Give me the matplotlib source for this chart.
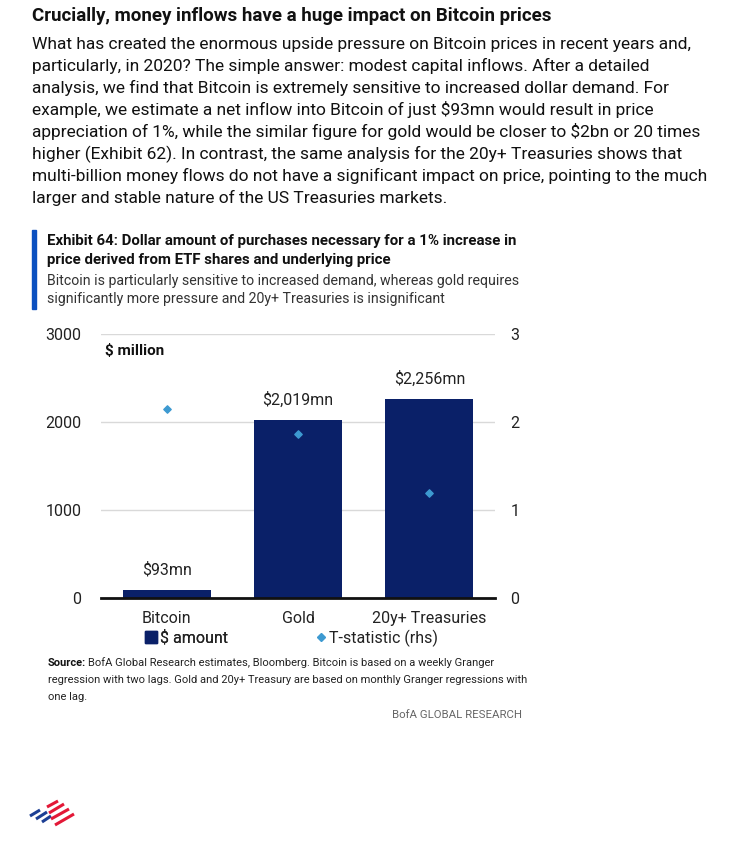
import matplotlib
matplotlib.use("Agg")
import matplotlib.pyplot as plt
from matplotlib.patches import Rectangle
from matplotlib.lines import Line2D

plt.rcParams['font.family'] = ['Roboto', 'DejaVu Sans']

# data
categories = ["Bitcoin", "Gold", "20y+ Treasuries"]
amounts = [93, 2019, 2256]
amount_labels = ["$93mn", "$2,019mn", "$2,256mn"]
tstats = [2.15, 1.86, 1.19]
left_ticks = [0, 1000, 2000, 3000]
right_ticks = [0, 1, 2, 3]

heading = "Crucially, money inflows have a huge impact on Bitcoin prices"
body_lines = [
    "What has created the enormous upside pressure on Bitcoin prices in recent years and,",
    "particularly, in 2020? The simple answer: modest capital inflows. After a detailed",
    "analysis, we find that Bitcoin is extremely sensitive to increased dollar demand. For",
    "example, we estimate a net inflow into Bitcoin of just $93mn would result in price",
    "appreciation of 1%, while the similar figure for gold would be closer to $2bn or 20 times",
    "higher (Exhibit 62). In contrast, the same analysis for the 20y+ Treasuries shows that",
    "multi-billion money flows do not have a significant impact on price, pointing to the much",
    "larger and stable nature of the US Treasuries markets.",
]
exhibit_title = ["Exhibit 64: Dollar amount of purchases necessary for a 1% increase in",
                 "price derived from ETF shares and underlying price"]
exhibit_sub = ["Bitcoin is particularly sensitive to increased demand, whereas gold requires",
               "significantly more pressure and 20y+ Treasuries is insignificant"]
source_lines = ["BofA Global Research estimates, Bloomberg. Bitcoin is based on a weekly Granger",
                "regression with two lags. Gold and 20y+ Treasury are based on monthly Granger regressions with",
                "one lag."]

W, H = 739, 846
navy = "#0a2068"
dot = "#3d9ad1"

fig = plt.figure(figsize=(W / 100, H / 100), dpi=100)


def fx(px):
    return px / W


def fy(py):
    return 1 - py / H


# header text
fig.text(fx(32), fy(16), heading, fontsize=13.5, fontweight='bold', color='#111', va='center')
for i, ln in enumerate(body_lines):
    fig.text(fx(32), fy(44 + i * 22), ln, fontsize=12.5, color='#111', va='center')

# exhibit block
fig.patches.append(Rectangle((fx(32), fy(309)), fx(4), (309 - 230) / H, transform=fig.transFigure,
                             color='#0b50c0', zorder=1))
for i, ln in enumerate(exhibit_title):
    fig.text(fx(47), fy(241 + i * 19), ln, fontsize=10.8, fontweight='bold', color='#111', va='center')
for i, ln in enumerate(exhibit_sub):
    fig.text(fx(47), fy(281 + i * 18), ln, fontsize=10.2, color='#333', va='center')

# chart
ax = fig.add_axes([fx(101), 1 - 598 / H, 394 / W, 264 / H])
x = list(range(len(categories)))
ax.bar(x, amounts, width=0.67, color=navy, zorder=2)
ax.set_xlim(-0.5, 2.5)
ax.set_ylim(0, 3000)
ax.set_yticks(left_ticks)
ax.set_xticks(x)
ax.set_xticklabels(categories)
ax.yaxis.grid(True, color='#d9d9d9', lw=1)
ax.set_axisbelow(True)
for s in ['top', 'right', 'left']:
    ax.spines[s].set_visible(False)
ax.spines['bottom'].set_linewidth(2)
ax.spines['bottom'].set_color('#111')
ax.tick_params(axis='both', length=0, labelsize=11.5, labelcolor='#222')
ax.tick_params(axis='y', pad=14)
ax.tick_params(axis='x', pad=9)
for xi, v, lab in zip(x, amounts, amount_labels):
    ax.annotate(lab, (xi, v), xytext=(0, 9), textcoords='offset points', ha='center', va='bottom',
                fontsize=11.5, color='#222')
ax.text(0.01, 0.935, "$ million", transform=ax.transAxes, fontsize=11, fontweight='bold',
        color='#111', va='center')

ax2 = ax.twinx()
ax2.scatter(x, tstats, marker='D', s=14, color=dot, zorder=3)
ax2.set_ylim(0, 3)
ax2.set_yticks(right_ticks)
for s in ax2.spines.values():
    s.set_visible(False)
ax2.tick_params(axis='y', length=0, labelsize=11.5, labelcolor='#222', pad=11)

# legend, two entries placed separately
h1 = Line2D([], [], marker='s', ls='', color=navy, markersize=8)
h2 = Line2D([], [], marker='D', ls='', color=dot, markersize=4)
leg1 = fig.legend([h1], ["$ amount"], loc='center left', bbox_to_anchor=(fx(130), fy(638)),
                  frameon=False, fontsize=11.5, handletextpad=0.2, handlelength=0.8, labelcolor='#222')
fig.add_artist(leg1)
fig.legend([h2], ["T-statistic (rhs)"], loc='center left', bbox_to_anchor=(fx(300), fy(638)),
           frameon=False, fontsize=11.5, handletextpad=0.1, handlelength=0.8, labelcolor='#222')

# source
fig.text(fx(48), fy(663), "Source:", fontsize=8, fontweight='bold', color='#111', va='center')
fig.text(fx(88), fy(663), source_lines[0], fontsize=8, color='#222', va='center')
fig.text(fx(48), fy(680), source_lines[1], fontsize=8, color='#222', va='center')
fig.text(fx(48), fy(697), source_lines[2], fontsize=8, color='#222', va='center')
fig.text(fx(522), fy(715), "BofA GLOBAL RESEARCH", fontsize=8.2, color='#666', va='center', ha='right')

# logo stripes
stripes = [((30, 816), (40, 810), '#1c3f94'),
           ((36, 819), (47, 812), '#1c3f94'),
           ((42, 822), (51, 816), '#1c3f94'),
           ((47, 807), (58, 801), '#e31837'),
           ((49, 813), (64, 804), '#e31837'),
           ((51, 819), (69, 809), '#e31837'),
           ((55, 825), (74, 814), '#e31837')]
for p0, p1, c in stripes:
    fig.add_artist(Line2D([fx(p0[0]), fx(p1[0])], [fy(p0[1]), fy(p1[1])], transform=fig.transFigure,
                          color=c, lw=2.2, solid_capstyle='butt'))

fig.savefig("out.png", dpi=100)
